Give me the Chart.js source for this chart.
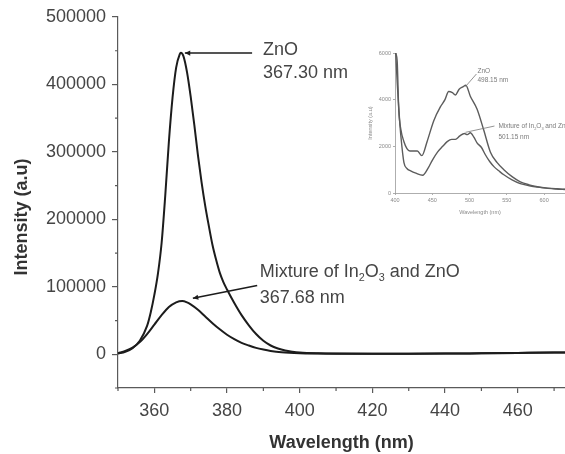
<!DOCTYPE html>
<html>
<head>
<meta charset="utf-8">
<script src="https://cdn.jsdelivr.net/npm/chart.js@4.4.1/dist/chart.umd.min.js"></script>
<style>
  html, body { margin: 0; padding: 0; background: #fff; }
  #wrap { position: relative; width: 565px; height: 454px; overflow: hidden; background: #fff; }
  #main { position: absolute; left: 0; top: 0; }
  #inset { position: absolute; left: 364px; top: 40px; }
</style>
</head>
<body>
<div id="wrap">
  <canvas id="main" width="565" height="454"></canvas>
  <canvas id="inset" width="201" height="180"></canvas>
</div>
<script>
// --- Main spectrum data ---
const znoWavelength = [350, 352, 354, 356, 358, 359, 360, 361, 362, 363, 364, 365, 366, 367, 367.3, 368, 369, 370, 371, 372, 373, 374, 375, 376, 377, 378, 379, 380, 382, 384, 386, 388, 390, 392, 394, 396, 398, 400, 405, 410, 420, 430, 440, 450, 460, 470, 473];
const znoIntensity = [1000, 3500, 9000, 20000, 42000, 62000, 88000, 120000, 165000, 235000, 315000, 380000, 425000, 445000, 447000, 442000, 418000, 382000, 340000, 295000, 255000, 220000, 190000, 162000, 140000, 121000, 107000, 96000, 76000, 58000, 43000, 30000, 20000, 13000, 8500, 5500, 3800, 2700, 1500, 1000, 800, 800, 1000, 1500, 2000, 2500, 2600];

const mixWavelength = [350, 352, 354, 356, 358, 360, 362, 364, 366, 367.68, 369, 370, 372, 374, 376, 378, 380, 382, 384, 386, 388, 390, 392, 395, 400, 405, 410, 420, 430, 440, 450, 460, 470, 473];
const mixIntensity = [1500, 5000, 10000, 18000, 30000, 44000, 58000, 70000, 77000, 79000, 77000, 74000, 66000, 56000, 46000, 37000, 29000, 22500, 17000, 13000, 9500, 7000, 5000, 3000, 1500, 1000, 800, 700, 800, 1000, 1500, 2000, 2500, 2600];

const xTicks = [360, 380, 400, 420, 440, 460];
const xMinor = [350, 370, 390, 410, 430, 450, 470];
const yTicks = [0, 100000, 200000, 300000, 400000, 500000];
const yMinor = [-50000, 50000, 150000, 250000, 350000, 450000];

// --- Inset data ---
const znoInsetWl = [401, 403, 405, 408, 412, 416, 420, 425, 430, 436, 443, 452, 461, 467, 472, 477, 481, 486, 491, 495, 501, 510, 519, 528, 537, 546, 557, 568, 580, 591, 605, 617, 628];
const znoInset = [6000, 5600, 3600, 2700, 2200, 1900, 1800, 1800, 1800, 1600, 2200, 3100, 3700, 4000, 4350, 4300, 4200, 4450, 4550, 4620, 4150, 3600, 2700, 1750, 1300, 1000, 700, 480, 350, 270, 210, 180, 160];
const mixInsetWl = [401, 403, 406, 408, 412, 416, 421, 428, 437, 445, 450, 457, 464, 470, 476, 481, 487, 493, 497, 501, 506, 510, 516, 521, 527, 533, 540, 546, 557, 568, 580, 591, 605, 617, 628];
const mixInset = [6000, 4700, 3200, 2400, 1300, 1050, 950, 850, 760, 1100, 1400, 1750, 2000, 2200, 2300, 2300, 2450, 2550, 2500, 2580, 2380, 2150, 1950, 1650, 1350, 1120, 930, 780, 560, 400, 310, 250, 200, 170, 150];
const insetXTicks = [400, 450, 500, 550, 600];
const insetYTicks = [0, 2000, 4000, 6000];

// --- Label texts ---
const znoLabel = [[{ text: 'ZnO' }], [{ text: '367.30 nm' }]];
const mixLabel = [
  [{ text: 'Mixture of In' }, { text: '2', sub: true }, { text: 'O' }, { text: '3', sub: true }, { text: ' and ZnO' }],
  [{ text: '367.68 nm' }]
];
const znoInsetLabel = [[{ text: 'ZnO' }], [{ text: '498.15 nm' }]];
const mixInsetLabel = [
  [{ text: 'Mixture of In' }, { text: '2', sub: true }, { text: 'O' }, { text: '3', sub: true }, { text: ' and ZnO' }],
  [{ text: '501.15 nm' }]
];

const FONT = '"Liberation Sans", Arial, Helvetica, sans-serif';
const TEXT = '#454545';
const AXIS = '#5a5a5a';

const toPoints = (xs, ys) => xs.map((x, i) => ({ x, y: ys[i] }));

// draws text made of normal and subscript parts
const drawParts = (ctx, parts, x, y, size) => {
    let cx = x;
    parts.forEach(p => {
        const s = p.sub ? size * 0.6 : size;
        ctx.font = `${s}px ${FONT}`;
        ctx.fillText(p.text, cx, p.sub ? y + size * 0.32 : y);
        cx += ctx.measureText(p.text).width;
    });
};

// arrows + texts placed in data coordinates
const callouts = {
    id: 'callouts',
    afterDatasetsDraw(chart, args, opts) {
        const { ctx, scales: { x, y } } = chart;
        ctx.save();
        ctx.strokeStyle = opts.lineColor;
        ctx.fillStyle = opts.lineColor;
        ctx.lineWidth = opts.lineWidth;
        opts.items.forEach(item => {
            const fx = x.getPixelForValue(item.from[0]), fy = y.getPixelForValue(item.from[1]);
            const tx = x.getPixelForValue(item.to[0]), ty = y.getPixelForValue(item.to[1]);
            ctx.beginPath();
            ctx.moveTo(fx, fy);
            ctx.lineTo(tx, ty);
            ctx.stroke();
            const a = Math.atan2(ty - fy, tx - fx), h = opts.head;
            if (h > 0) {
                ctx.beginPath();
                ctx.moveTo(tx, ty);
                ctx.lineTo(tx - h * Math.cos(a - 0.45), ty - h * Math.sin(a - 0.45));
                ctx.lineTo(tx - h * Math.cos(a + 0.45), ty - h * Math.sin(a + 0.45));
                ctx.closePath();
                ctx.fill();
            }
        });
        ctx.fillStyle = opts.color;
        ctx.textBaseline = 'middle';
        ctx.textAlign = 'left';
        opts.items.forEach(item => {
            item.lines.forEach((parts, i) => {
                drawParts(ctx, parts, x.getPixelForValue(item.textAt[0]), y.getPixelForValue(item.textAt[1][i]), opts.size);
            });
        });
        ctx.restore();
    }
};

const minorTicks = {
    id: 'minorTicks',
    afterDraw(chart, args, opts) {
        if (!opts.xValues) return;
        const { ctx, scales: { x, y } } = chart;
        ctx.save();
        ctx.strokeStyle = opts.color;
        ctx.lineWidth = opts.width;
        ctx.beginPath();
        opts.xValues.forEach(v => {
            const px = x.getPixelForValue(v);
            ctx.moveTo(px, y.bottom);
            ctx.lineTo(px, y.bottom + opts.length);
        });
        opts.yValues.forEach(v => {
            const py = y.getPixelForValue(v);
            ctx.moveTo(x.left - opts.length, py);
            ctx.lineTo(x.left, py);
        });
        ctx.stroke();
        ctx.restore();
    }
};

const sideTitle = {
    id: 'sideTitle',
    afterDraw(chart, args, opts) {
        if (!opts.text) return;
        const { ctx } = chart;
        ctx.save();
        ctx.translate(opts.x, opts.y);
        ctx.rotate(-Math.PI / 2);
        ctx.font = `bold ${opts.size}px ${FONT}`;
        ctx.fillStyle = opts.color;
        ctx.textAlign = 'center';
        ctx.textBaseline = 'middle';
        ctx.fillText(opts.text, 0, 0);
        ctx.restore();
    }
};

// --- Main chart ---
new Chart(document.getElementById('main'), {
    type: 'line',
    data: {
        datasets: [
            { label: 'ZnO', data: toPoints(znoWavelength, znoIntensity), borderColor: '#1c1c1c', borderWidth: 2, pointRadius: 0, cubicInterpolationMode: 'monotone', fill: false },
            { label: 'Mixture of In2O3 and ZnO', data: toPoints(mixWavelength, mixIntensity), borderColor: '#1c1c1c', borderWidth: 2, pointRadius: 0, cubicInterpolationMode: 'monotone', fill: false }
        ]
    },
    options: {
        responsive: false,
        animation: false,
        layout: { padding: { top: 17, left: 0, right: 0, bottom: 0 } },
        plugins: {
            legend: { display: false },
            tooltip: { enabled: false },
            minorTicks: { xValues: xMinor, yValues: yMinor, length: 3, color: AXIS, width: 1.2 },
            sideTitle: { text: 'Intensity (a.u)', x: 22, y: 217, size: 18, color: '#333' },
            callouts: {
                lineColor: '#1c1c1c', lineWidth: 1.6, head: 6, size: 18, color: TEXT,
                items: [
                    { from: [386.9, 446600], to: [368.4, 446600], textAt: [389.9, [451500, 417500]], lines: znoLabel },
                    { from: [388.3, 102000], to: [370.6, 83000], textAt: [389.0, [121500, 83000]], lines: mixLabel }
                ]
            }
        },
        scales: {
            x: {
                type: 'linear', min: 350, max: 473,
                afterBuildTicks: s => { s.ticks = xTicks.map(v => ({ value: v })); },
                afterFit: s => { s.height = 66; },
                ticks: { callback: v => String(v), font: { family: FONT, size: 18 }, color: TEXT, padding: 7, maxRotation: 0, autoSkip: false },
                grid: { drawOnChartArea: false, tickLength: 5, color: AXIS, lineWidth: 1.2 },
                border: { color: AXIS, width: 1.2 },
                title: { display: true, text: 'Wavelength (nm)', font: { family: FONT, size: 18, weight: 'bold' }, color: '#333', padding: 0 }
            },
            y: {
                type: 'linear', min: -50000, max: 500000,
                afterBuildTicks: s => { s.ticks = yTicks.map(v => ({ value: v })); },
                afterFit: s => { s.width = 118; },
                ticks: { callback: v => String(v), font: { family: FONT, size: 18 }, color: TEXT, padding: 6, autoSkip: false },
                grid: { drawOnChartArea: false, tickLength: 6, color: AXIS, lineWidth: 1.2 },
                border: { color: AXIS, width: 1.2 }
            }
        }
    },
    plugins: [minorTicks, callouts, sideTitle]
});

// --- Inset chart ---
new Chart(document.getElementById('inset'), {
    type: 'line',
    data: {
        datasets: [
            { label: 'ZnO', data: toPoints(znoInsetWl, znoInset), borderColor: '#5c5c5c', borderWidth: 1.4, pointRadius: 0, cubicInterpolationMode: 'monotone', fill: false },
            { label: 'Mixture', data: toPoints(mixInsetWl, mixInset), borderColor: '#5c5c5c', borderWidth: 1.4, pointRadius: 0, cubicInterpolationMode: 'monotone', fill: false }
        ]
    },
    options: {
        responsive: false,
        animation: false,
        layout: { padding: { top: 13, left: 0, right: 0, bottom: 0 } },
        plugins: {
            legend: { display: false },
            tooltip: { enabled: false },
            callouts: {
                lineColor: '#777', lineWidth: 0.8, head: 0, size: 6.5, color: '#7a7a7a',
                items: [
                    { from: [509.2, 5100], to: [494.5, 4560], textAt: [510.6, [5225, 4840]], lines: znoInsetLabel },
                    { from: [533.4, 2870], to: [494.5, 2600], textAt: [538.7, [2850, 2410]], lines: mixInsetLabel }
                ]
            }
        },
        scales: {
            x: {
                type: 'linear', min: 400, max: 628,
                afterBuildTicks: s => { s.ticks = insetXTicks.map(v => ({ value: v })); },
                afterFit: s => { s.height = 27; },
                ticks: { callback: v => String(v), font: { family: FONT, size: 5.5 }, color: '#8a8a8a', padding: 2, maxRotation: 0, autoSkip: false },
                grid: { drawOnChartArea: false, tickLength: 2, color: '#999', lineWidth: 0.8 },
                border: { color: '#999', width: 0.8 },
                title: { display: true, text: 'Wavelength (nm)', font: { family: FONT, size: 5.5 }, color: '#8a8a8a', padding: { top: 0, bottom: 4.5 } }
            },
            y: {
                type: 'linear', min: 0, max: 6000,
                afterBuildTicks: s => { s.ticks = insetYTicks.map(v => ({ value: v })); },
                afterFit: s => { s.width = 31; },
                ticks: { callback: v => String(v), font: { family: FONT, size: 5.5 }, color: '#8a8a8a', padding: 2, autoSkip: false },
                grid: { drawOnChartArea: false, tickLength: 2, color: '#999', lineWidth: 0.8 },
                border: { color: '#999', width: 0.8 },
                title: { display: true, text: 'Intensity (a.u)', font: { family: FONT, size: 5.5 }, color: '#8a8a8a', padding: { top: 3.5, bottom: 0 } }
            }
        }
    },
    plugins: [callouts]
});
</script>
</body>
</html>
